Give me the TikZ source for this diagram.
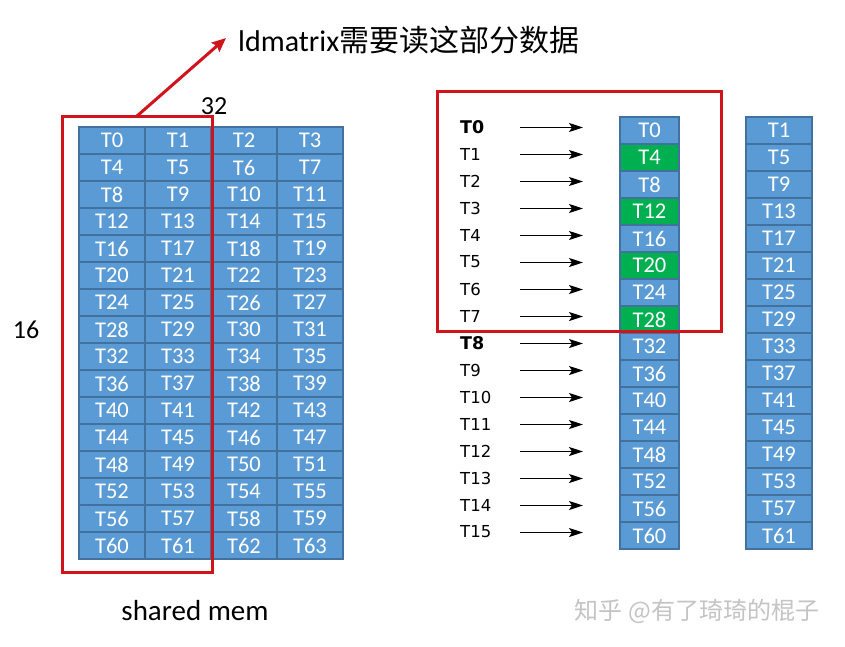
\documentclass[tikz,border=0pt]{standalone}
\usepackage{fontspec}
\setmainfont{Carlito}
\newfontfamily\cjkfont{Noto Sans CJK SC}
\newfontfamily\verafont{DejaVu Sans}
\usetikzlibrary{arrows.meta}
\definecolor{cellblue}{HTML}{5B9BD5}
\definecolor{cellline}{HTML}{41719C}
\definecolor{cellgreen}{HTML}{00B050}
\definecolor{boxred}{HTML}{D0141B}
\definecolor{wmgray}{HTML}{C4C4C4}
\tikzset{
 cell/.style={draw=cellline, line width=1.5pt, fill=cellblue, text=white, inner sep=0pt, minimum height=27pt, font=\fontsize{22.5}{22.5}\selectfont},
 thr/.style={anchor=west, inner sep=0pt, font=\verafont\fontsize{16.5}{16.5}\selectfont},
 tharrow/.style={-{Stealth[length=14pt,width=9pt,inset=3pt]}, line width=1.7pt},
 redbox/.style={draw=boxred, line width=3pt},
 redarrow/.style={draw=boxred, line width=3pt, -{Stealth[length=14pt,width=12pt,inset=2pt]}},
 lbl/.style={inner sep=0pt, font=\fontsize{26}{26}\selectfont}
}
\begin{document}
\begin{tikzpicture}[x=1pt,y=-1pt]
\useasboundingbox (0,0) rectangle (845,646);
\fill[white] (0,0) rectangle (845,646);
% left grid (shared mem)
\foreach \r in {0,...,15}{
  \foreach \c in {0,...,3}{
    \pgfmathtruncatemacro\n{4*\r+\c}
    \node[cell, minimum width=66pt] (L\n) at ({112+66*\c},{140.5+27*\r}) {T\n};
  }
}
% middle column
\foreach \r in {0,...,15}{
  \pgfmathtruncatemacro\n{4*\r}
  \def\fc{cellblue}
  \ifnum\r<8 \ifodd\r \def\fc{cellgreen}\fi\fi
  \node[cell, fill=\fc, minimum width=59pt] (M\r) at (649.5,{130.5+27*\r}) {T\n};
}
% right column
\foreach \r in {0,...,15}{
  \pgfmathtruncatemacro\n{4*\r+1}
  \node[cell, minimum width=66pt] (R\r) at (779,{130.5+27*\r}) {T\n};
}
% thread labels and arrows
\foreach \r in {0,...,15}{
  \def\lab{T\r}
  \ifnum\r=0 \def\lab{\fontsize{17.5}{17.5}\selectfont\bfseries T0}\fi
  \ifnum\r=8 \def\lab{\fontsize{17.5}{17.5}\selectfont\bfseries T8}\fi
  \node[thr] (th\r) at (460,{127+27*\r}) {\lab};
  \coordinate (a\r) at (520,{127.5+27*\r});
  \coordinate (b\r) at (583,{127.5+27*\r});
  \draw[tharrow] (a\r) -- (b\r);
}
% red boxes
\draw[redbox] (62,116) rectangle (212,572);
\draw[redbox] (437,91) rectangle (721,331);
% title and red arrow
\node[anchor=west, inner sep=0pt, font=\fontsize{30}{30}\selectfont] (title) at (238,40) {ldmatrix{\cjkfont 需要读这部分数据}};
\coordinate (rs) at (137,116);
\coordinate (re) at (226,38);
\draw[redarrow] (rs) -- (re);
% labels
\node[lbl] (n32) at (214,106) {32};
\node[lbl] (n16) at (26,330) {16};
\node[inner sep=0pt, font=\fontsize{29}{29}\selectfont] (sm) at (195,611) {shared mem};
\node[inner sep=0pt, text=wmgray, font=\cjkfont\fontsize{24}{24}\selectfont] (wm) at (697,611) {知乎 @有了琦琦的棍子};
\end{tikzpicture}
\end{document}
